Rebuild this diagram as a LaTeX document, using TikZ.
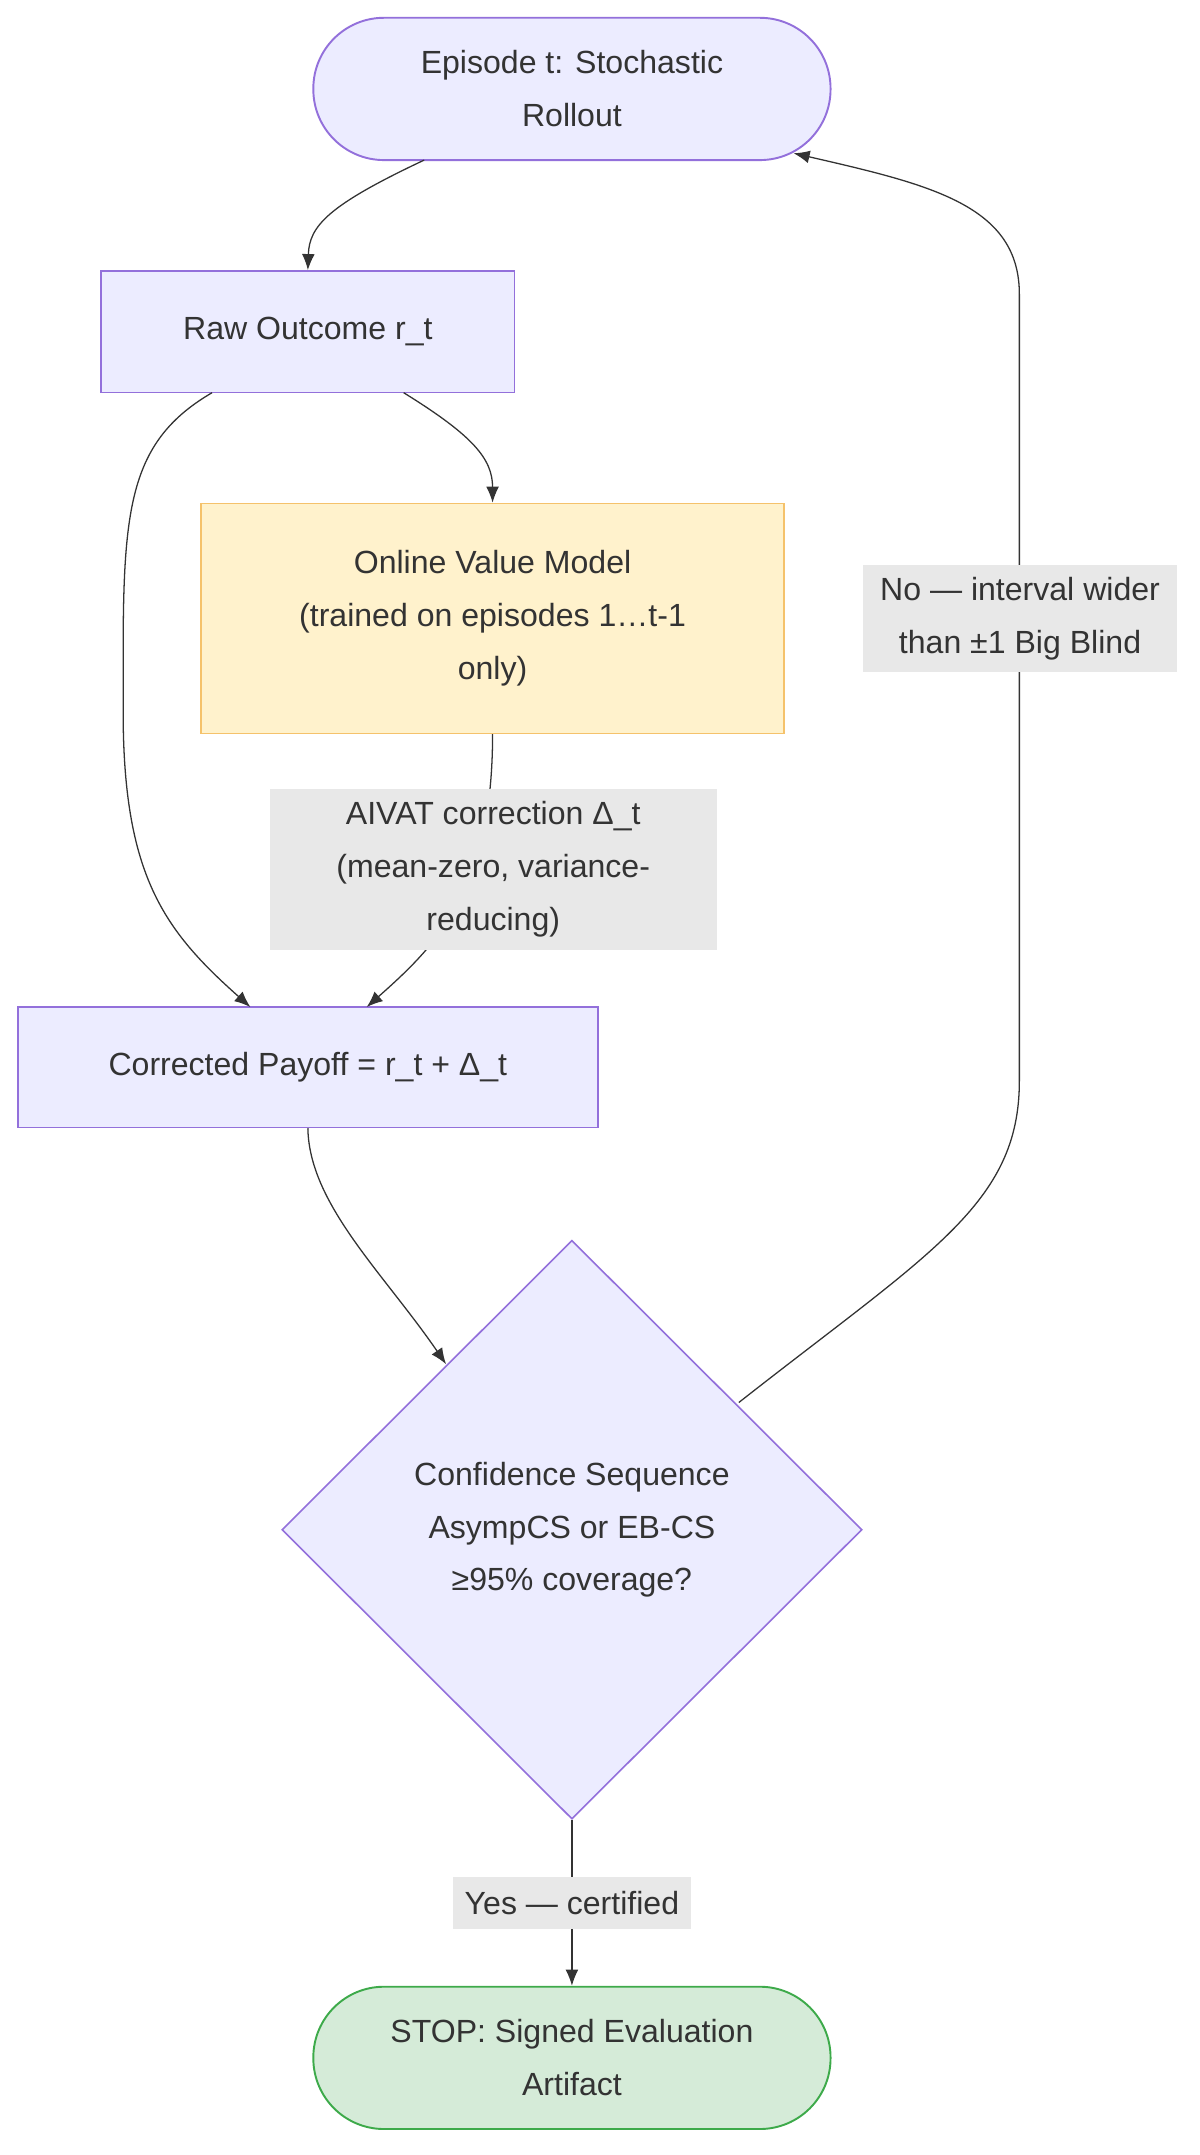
\documentclass[tikz,border=0pt]{standalone}
\usepackage{fontspec}
\setmainfont{Liberation Sans}
\usetikzlibrary{shapes.geometric,arrows.meta}
\definecolor{mfill}{HTML}{ECECFF}
\definecolor{mline}{HTML}{9370DB}
\definecolor{yfill}{HTML}{FFF2CC}
\definecolor{yline}{HTML}{F5C26B}
\definecolor{gfill}{HTML}{D5EBD8}
\definecolor{gline}{HTML}{3DAA4A}
\definecolor{lfill}{HTML}{E8E8E8}
\definecolor{txt}{HTML}{333333}
\begin{document}
\begin{tikzpicture}[x=0.03cm,y=-0.03cm,
  every node/.style={text=txt,font=\fontsize{20}{33}\selectfont,align=center,inner sep=0pt},
  box/.style={draw=mline,fill=mfill,line width=1pt,rectangle},
  term/.style={rectangle,draw=mline,fill=mfill,line width=1.2pt,minimum width=11.34cm,minimum height=3.12cm,rounded corners=1.55cm},
  lbl/.style={fill=lfill},
  edge/.style={draw=txt,line width=0.8pt,-{Latex[length=10pt,width=8pt]}}]
\useasboundingbox (0,0) rectangle (877,1575);
\node[term] (ep) at (418,65) {Episode t: Stochastic\\Rollout};
\node[box,minimum width=9.06cm,minimum height=2.67cm] (raw) at (225,242.5) {Raw Outcome r\_t};
\node[box,draw=yline,fill=yfill,minimum width=12.78cm,minimum height=5.04cm] (ovm) at (360,452) {Online Value Model\\(trained on episodes 1…t-1\\only)};
\node[box,minimum width=12.72cm,minimum height=2.64cm] (cor) at (225,780) {Corrected Payoff = r\_t + Δ\_t};
\node[diamond,draw=mline,fill=mfill,line width=1pt,minimum width=12.72cm,minimum height=12.69cm,aspect=1] (cs) at (418,1118) {Confidence Sequence\\AsympCS or EB-CS\\≥95\% coverage?};
\node[term,draw=gline,fill=gfill] (stop) at (418,1504) {STOP: Signed Evaluation\\Artifact};

\draw[edge] (310,117) .. controls (240,150) and (226,165) .. (raw.north);
\draw[edge] (295,287) .. controls (345,318) and (360,335) .. (ovm.north);
\draw[edge] (155,287) .. controls (95,322) and (90,370) .. (90,480) -- (90,520) .. controls (90,640) and (120,680) .. (183,736);
\draw[edge] (ovm.south) .. controls (360,650) and (320,690) .. (268,736);
\draw[edge] (cor.south) .. controls (226,880) and (280,930) .. (326,997);
\draw[edge] (cs.south) -- (stop.north);
\draw[edge] (540,1025) .. controls (680,915) and (745,880) .. (745,790) -- (745,215) .. controls (745,150) and (680,135) .. (580,112);

\node[lbl,minimum width=9.81cm,minimum height=3.51cm] (l1) at (360.5,635.5) {AIVAT correction Δ\_t\\(mean-zero, variance-\\reducing)};
\node[lbl,minimum width=5.22cm,minimum height=1.14cm] (l2) at (418,1391) {Yes — certified};
\node[lbl,minimum width=6.87cm,minimum height=2.34cm] (l3) at (745.5,452) {No — interval wider\\than ±1 Big Blind};
\end{tikzpicture}
\end{document}
